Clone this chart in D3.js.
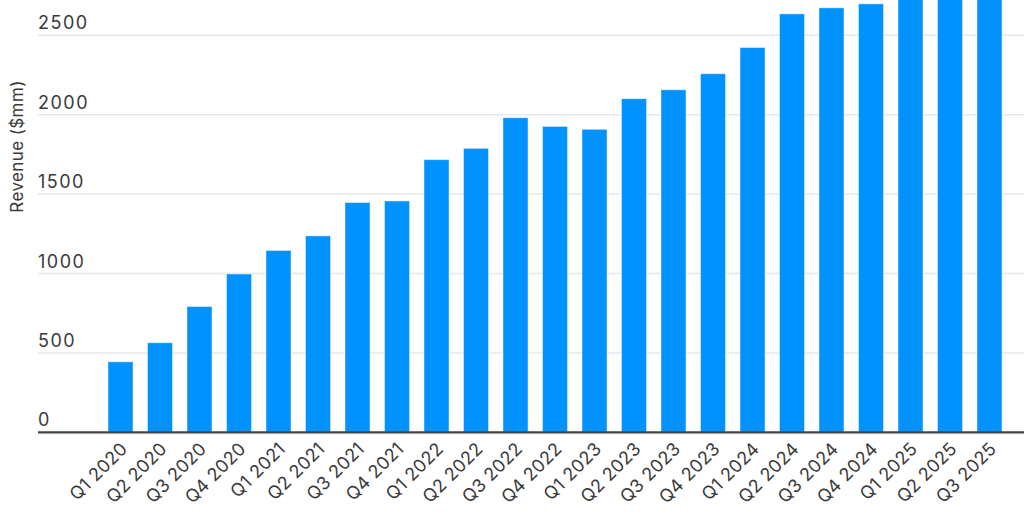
<!DOCTYPE html>
<html>
<head>
<meta charset="utf-8">
<script src="https://cdn.jsdelivr.net/npm/d3@7"></script>
<style>
  body { margin: 0; background: #fff; }
  svg { display: block; font-family: Inter, "Noto Sans", sans-serif; }
  .tick-label { fill: #3a3a3a; font-size: 18px; letter-spacing: 1.5px; }
  .x-label { fill: #3a3a3a; font-size: 18px; letter-spacing: 0.3px; }
  .y-title { fill: #3a3a3a; font-size: 17px; letter-spacing: 0.4px; }
</style>
</head>
<body>
<svg id="chart"></svg>
<script>
var w = 1024;
var h = 512;

// data
var quarters = ["Q1 2020", "Q2 2020", "Q3 2020", "Q4 2020",
    "Q1 2021", "Q2 2021", "Q3 2021", "Q4 2021",
    "Q1 2022", "Q2 2022", "Q3 2022", "Q4 2022",
    "Q1 2023", "Q2 2023", "Q3 2023", "Q4 2023",
    "Q1 2024", "Q2 2024", "Q3 2024", "Q4 2024",
    "Q1 2025", "Q2 2025", "Q3 2025"];
var revenue = [444, 564, 792, 997,
    1145, 1237, 1447, 1457,
    1717, 1788, 1981, 1926,
    1908, 2101, 2157, 2258,
    2423, 2635, 2673, 2698,
    2800, 2880, 2950];
var yTicks = [0, 500, 1000, 1500, 2000, 2500];

let svg = d3.select("#chart")
    .attr("width", w)
    .attr("height", h);

let xScale = d3.scaleBand()
    .domain(quarters)
    .range([100.75, 1009.25])
    .paddingInner(0.367)
    .paddingOuter(0.1835);

// zero at the axis line, 2500 at the top grid line
let yScale = d3.scaleLinear()
    .domain([0, 2500])
    .range([432.3, 35.3]);

//grid lines
svg.append("g")
    .selectAll("line")
    .data(yTicks.filter(d => d != 0))
    .join("line")
    .attr("x1", 38)
    .attr("x2", w)
    .attr("y1", d => yScale(d))
    .attr("y2", d => yScale(d))
    .attr("stroke", "#e8e8e8")
    .attr("stroke-width", 1.5);

//y tick labels sit above their grid line
svg.append("g")
    .selectAll("text")
    .data(yTicks)
    .join("text")
    .attr("class", "tick-label")
    .attr("x", 38)
    .attr("y", d => yScale(d) - 6)
    .text(d => d);

svg.append("text")
    .attr("class", "y-title")
    .attr("transform", `translate(23, ${yScale(1800)}) rotate(-90)`)
    .attr("text-anchor", "middle")
    .text("Revenue ($mm)");

//bars
svg.append("g")
    .selectAll("rect")
    .data(revenue)
    .join("rect")
    .attr("x", (d, i) => xScale(quarters[i]))
    .attr("width", xScale.bandwidth())
    .attr("y", d => yScale(d))
    .attr("height", d => yScale(0) - yScale(d))
    .attr("fill", "#0092ff")
    .attr("stroke", "#fff")
    .attr("stroke-opacity", 0.45)
    .attr("stroke-width", 1);

//baseline
svg.append("line")
    .attr("x1", 38)
    .attr("x2", w)
    .attr("y1", yScale(0))
    .attr("y2", yScale(0))
    .attr("stroke", "#444")
    .attr("stroke-width", 2.2);

//rotated x labels
svg.append("g")
    .selectAll("text")
    .data(quarters)
    .join("text")
    .attr("class", "x-label")
    .attr("text-anchor", "end")
    .attr("transform", d => `translate(${xScale(d) + xScale.bandwidth() / 2 + 8}, 450) rotate(-45)`)
    .text(d => d);
</script>
</body>
</html>
